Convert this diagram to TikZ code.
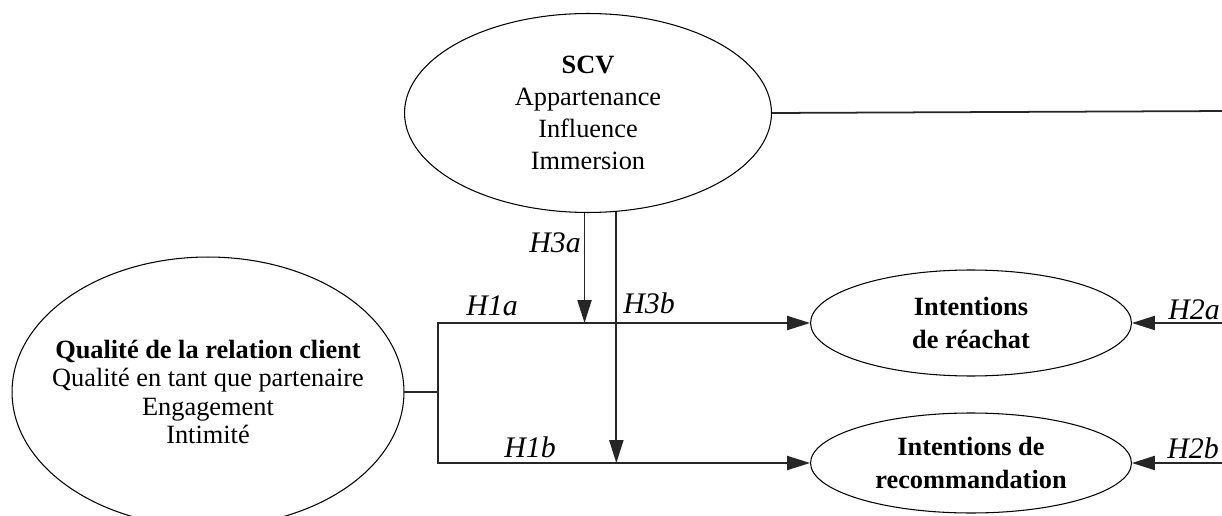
\documentclass[tikz,border=0pt]{standalone}
\usepackage{fontspec}
\setmainfont{Liberation Serif}
\usetikzlibrary{shapes.geometric,arrows.meta}
\tikzset{every picture/.style={font=\fontsize{15}{18.3}\selectfont}}
\tikzstyle{construit}=[ellipse,draw=black,line width=0.6pt,inner sep=0pt,align=center]
\tikzstyle{lien}=[draw=black!85,line width=1pt]
\tikzstyle{fleche}=[lien,-{Triangle[length=13pt,width=8pt]}]
\tikzstyle{hyp}=[font=\fontsize{17}{18}\selectfont\itshape,inner sep=0pt]

\begin{document}
\begin{tikzpicture}[x=0.02cm,y=-0.02cm]
	\clip (0,0) rectangle (1222,516);
	\node at (588,113) [construit,minimum width=7.34cm,minimum height=3.98cm] (scv) {\textbf{SCV}\\Appartenance\\Influence\\Immersion};
	\node at (208,392) [construit,minimum width=7.84cm,minimum height=5.4cm,inner xsep=-12pt,font=\fontsize{15}{16.3}\selectfont] (qrc) {\textbf{Qualité de la relation client}\\Qualité en tant que partenaire\\Engagement\\Intimité};
	\node at (971,323) [construit,minimum width=6.42cm,minimum height=2.12cm,font=\fontsize{15}{18.3}\selectfont\bfseries] (rea) {Intentions\\de réachat};
	\node at (971,463) [construit,minimum width=6.42cm,minimum height=2cm,font=\fontsize{15}{18.3}\selectfont\bfseries] (rec) {Intentions de\\recommandation};
	\coordinate (j) at (438,392);
	\coordinate (d0) at (1230,111);
	\coordinate (d1) at (1230,323);
	\coordinate (d2) at (1230,463);
	\draw[lien] (scv.east) -- (d0);
	\draw[lien] (qrc.east) -- (j);
	\draw[fleche] (j) |- (rea.west);
	\draw[fleche] (j) |- (rec.west);
	\draw[fleche] (scv.268) -- (scv.268 |- rea.west);
	\draw[fleche] (scv.286) -- (scv.286 |- rec.west);
	\draw[fleche] (d1) -- (rea.east);
	\draw[fleche] (d2) -- (rec.east);
	\node[hyp] (h3a) at (555,243) {H3a};
	\node[hyp] (h3b) at (649,303) {H3b};
	\node[hyp] (h1a) at (492,306) {H1a};
	\node[hyp] (h1b) at (530,447) {H1b};
	\node[hyp] (h2a) at (1194,310) {H2a};
	\node[hyp] (h2b) at (1193,448) {H2b};
\end{tikzpicture}
\end{document}
